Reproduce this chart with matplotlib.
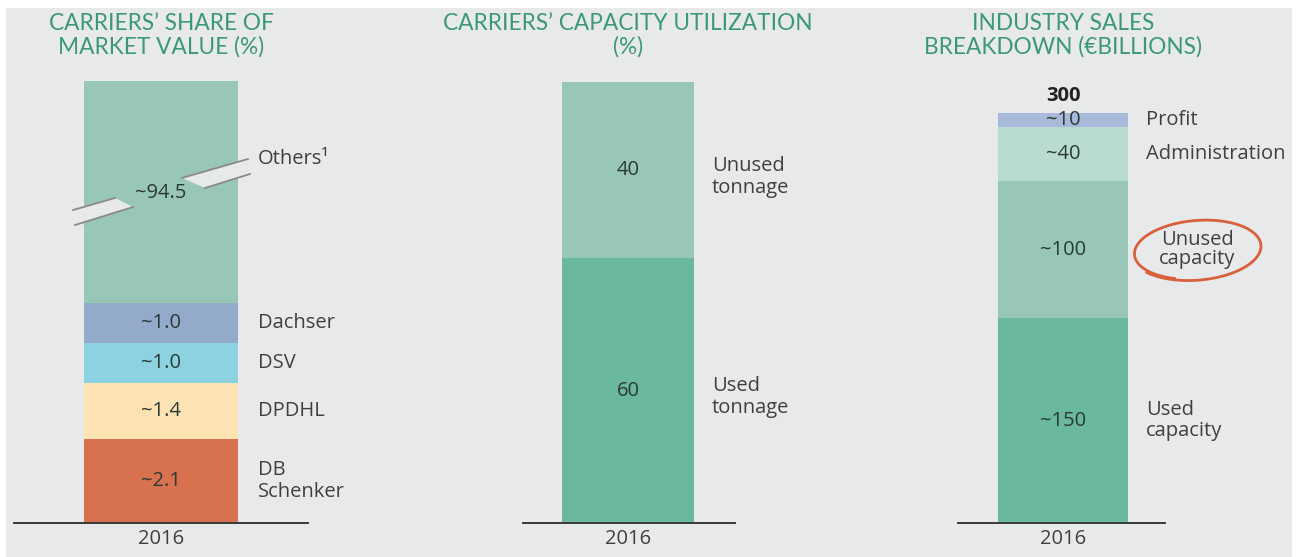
import matplotlib.pyplot as plt
import numpy as np
from matplotlib.patches import Rectangle, Polygon

plt.rcParams['font.family'] = ['Open Sans', 'DejaVu Sans']

# carriers' share of market value (%)
carriers = ['DB\nSchenker', 'DPDHL', 'DSV', 'Dachser', 'Others¹']
share = [2.1, 1.4, 1.0, 1.0, 94.5]
share_labels = ['~2.1', '~1.4', '~1.0', '~1.0', '~94.5']
share_colors = ['#d8714f', '#fde3b3', '#8cd2e0', '#94aacb', '#98c7b8']

# carriers' capacity utilization (%)
util_cats = ['Used\ntonnage', 'Unused\ntonnage']
util = [60, 40]
util_colors = ['#6ab8a0', '#98c7b8']

# industry sales breakdown (EUR bn)
sales_cats = ['Used\ncapacity', 'Unused\ncapacity', 'Administration', 'Profit']
sales = [150, 100, 40, 10]
sales_labels = ['~150', '~100', '~40', '~10']
sales_colors = ['#6ab8a0', '#98c7b8', '#b9dccf', '#a9b9da']
sales_total = 300

year = '2016'
titles = ["CARRIERS\u2019 SHARE OF\nMARKET VALUE (%)",
          "CARRIERS\u2019 CAPACITY UTILIZATION\n(%)",
          "INDUSTRY SALES\nBREAKDOWN (\u20acBILLIONS)"]

W, H = 1305, 557
BG = '#e8e9eb'
TITLE_C = '#3b9876'
VAL_C = '#2c3a35'
CAT_C = '#404040'
FS = 14.5

fig = plt.figure(figsize=(W / 100, H / 100), dpi=100, facecolor='white')
fig.patches.append(Rectangle((6 / W, 0), 1286 / W, 549 / H, transform=fig.transFigure,
                             facecolor=BG, edgecolor='none', zorder=-10))


def px_axes(x0, x1, top):
    return fig.add_axes([x0 / W, (H - 523) / H, (x1 - x0) / W, (523 - top) / H])


def style(ax):
    ax.set_facecolor('none')
    for s in ax.spines.values():
        s.set_visible(False)
    ax.set_yticks([])
    ax.set_xticks([0])
    ax.set_xticklabels([year], fontsize=FS, color=CAT_C)
    ax.tick_params(axis='x', length=0, pad=4)
    ax.axhline(0, color='#3a3a3a', lw=1.4, clip_on=False, zorder=5)


# ---- panel 1 (broken bar for "Others")
ax1 = px_axes(14, 308, 81)
style(ax1)
others_shown = 5.55  # displayed height of the broken bar
heights = share[:-1] + [others_shown]
bottom = 0
for h, lab, c, cat in zip(heights, share_labels, share_colors, carriers):
    ax1.bar(0, h, width=1, bottom=bottom, color=c, edgecolor='none')
    if cat != 'Others¹':
        ax1.text(0, bottom + h / 2, lab, ha='center', va='center', fontsize=FS, color=VAL_C)
        ax1.text(0.63, bottom + h / 2, cat, ha='left', va='center', fontsize=FS,
                 color=CAT_C, linespacing=1.12)
    bottom += h
ax1.set_xlim(-0.955, 0.955)
ax1.set_ylim(0, 11.05)
ax1.text(0, 8.25, share_labels[-1], ha='center', va='center', fontsize=FS, color=VAL_C, zorder=6)
ax1.text(0.63, 9.1, carriers[-1], ha='left', va='center', fontsize=FS, color=CAT_C)
# axis-break marks
for pts in ([(-0.571, 7.825), (-0.299, 8.125), (-0.182, 7.9), (-0.558, 7.45)],
            [(0.136, 8.625), (0.565, 9.1), (0.578, 8.725), (0.286, 8.375)]):
    ax1.add_patch(Polygon(pts, closed=True, facecolor=BG, edgecolor='none', zorder=4, clip_on=False))
    ax1.plot([pts[0][0], pts[1][0]], [pts[0][1], pts[1][1]], color='#8a8a8a', lw=1.3, zorder=5, clip_on=False)
    ax1.plot([pts[3][0], pts[2][0]], [pts[3][1], pts[2][1]], color='#8a8a8a', lw=1.3, zorder=5, clip_on=False)

# ---- panel 2
ax2 = px_axes(523, 735, 82)
style(ax2)
bottom = 0
for v, c, cat in zip(util, util_colors, util_cats):
    ax2.bar(0, v, width=1, bottom=bottom, color=c, edgecolor='none')
    ax2.text(0, bottom + v / 2, str(v), ha='center', va='center', fontsize=FS, color=VAL_C)
    ax2.text(0.636, bottom + v / 2 - 1.5, cat, ha='left', va='center', fontsize=FS,
             color=CAT_C, linespacing=1.12)
    bottom += v
ax2.set_xlim(-0.795, 0.81)
ax2.set_ylim(0, 100)

# ---- panel 3
ax3 = px_axes(958, 1165, 113)
style(ax3)
bottom = 0
for v, lab, c, cat in zip(sales, sales_labels, sales_colors, sales_cats):
    ax3.bar(0, v, width=1, bottom=bottom, color=c, edgecolor='none')
    ax3.text(0, bottom + v / 2, lab, ha='center', va='center', fontsize=FS, color=VAL_C)
    if cat == 'Unused\ncapacity':
        ax3.text(1.035, bottom + v / 2, cat, ha='center', va='center', fontsize=FS,
                 color=CAT_C, linespacing=0.95)
    else:
        ax3.text(0.64, bottom + v / 2, cat, ha='left', va='center', fontsize=FS,
                 color=CAT_C, linespacing=1.12)
    bottom += v
ax3.annotate(str(sales_total), (0, bottom), xytext=(0, 5), textcoords='offset points',
             ha='center', va='bottom', fontsize=FS, fontweight='bold', color='#222222',
             annotation_clip=False)
ax3.set_xlim(-0.81, 0.785)
ax3.set_ylim(0, 300)

# titles
for x, t in zip([161, 628, 1063], titles):
    fig.text(x / W, 1 - 35 / H, t, ha='center', va='center', fontsize=16.3,
             color=TITLE_C, linespacing=1.12, family=['Lato', 'DejaVu Sans'])

# hand-drawn circle around "Unused capacity"
ov = fig.add_axes([0, 0, 1, 1], zorder=10)
ov.set_xlim(0, W)
ov.set_ylim(H, 0)
ov.axis('off')
ov.patch.set_visible(False)
t = np.linspace(0.62 * np.pi, 2.78 * np.pi, 300)
r = 1 + 0.05 * (t - t[0]) / (t[-1] - t[0])
ov.plot(1197 + 62 * r * np.cos(t), 250 + 29 * r * np.sin(t) - 4 * np.cos(t),
        color='#d9603b', lw=2)

fig.savefig('out.png', dpi=100, facecolor=fig.get_facecolor())
